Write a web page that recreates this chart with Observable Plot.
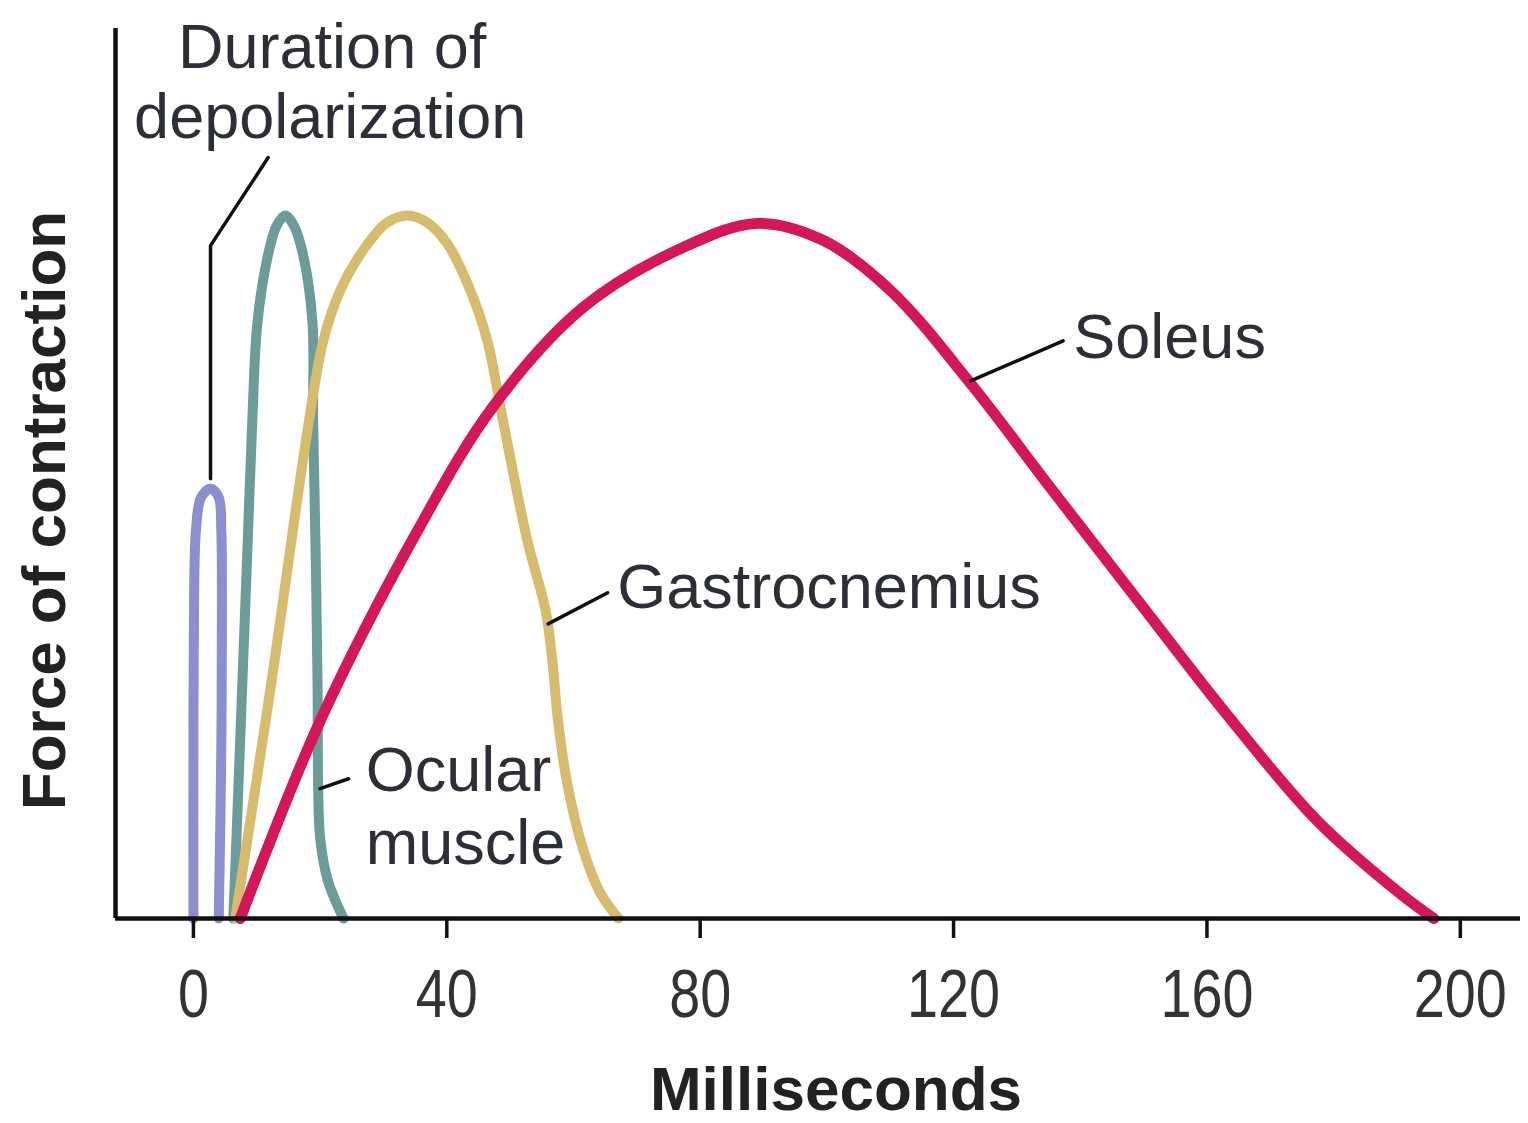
<!DOCTYPE html>
<html><head><meta charset="utf-8">
<script src="https://cdn.jsdelivr.net/npm/d3@7"></script>
<script src="https://cdn.jsdelivr.net/npm/@observablehq/plot@0.6"></script>
<style>body{margin:0;background:#fff}</style>
</head><body><div id="chart"></div>
<script>
// Milliseconds / force of contraction (arbitrary units, 0-100)
const depolMs    = [0, 0, 0.1, 0.4, 1.2, 2.7, 4.0, 4.4, 4.5, 4.4, 4.0];
const depolForce = [0, 18.9, 35.7, 43.6, 47.3, 48.3, 47.3, 43.6, 35.7, 18.9, 0];

const ocularMs    = [6.3, 6.9, 7.7, 8.5, 9.3, 10.1, 11.7, 13.1, 14.5, 15.9, 17.4, 18.8, 18.9, 19.3, 19.6, 19.7, 20.0, 21.2, 23.7];
const ocularForce = [0, 11.0, 26.0, 41.0, 56.0, 66.9, 74.3, 77.8, 79.0, 77.8, 74.3, 66.9, 56.0, 41.0, 26.0, 14.4, 9.1, 4.3, 0];

const gastroMs    = [6.6, 12.2, 18.0, 20.5, 23.2, 27.5, 30.6, 33.8, 36.9, 40.1, 43.7, 46.4, 48.8, 52.7, 55.6, 56.7, 57.5, 59.0, 61.6, 64.2, 67.1];
const gastroForce = [0, 26.0, 54.8, 64.9, 70.6, 75.8, 78.2, 79.0, 78.2, 75.8, 70.6, 64.9, 56.2, 42.5, 34.6, 28.7, 22.6, 15.2, 7.6, 2.9, 0];

const soleusMs    = [7.4, 20.0, 35.4, 47.4, 61.6, 77.3, 89.0, 99.4, 110.0, 122.7, 135.3, 150.0, 162.6, 177.4, 190.5, 195.8];
const soleusForce = [0, 22.2, 43.6, 57.6, 68.7, 75.4, 78.1, 76.2, 70.6, 60.1, 48.4, 34.9, 23.4, 11.0, 2.8, 0];

const xTicks = [0, 40, 80, 120, 160, 200];
const xTitle = "Milliseconds";
const yTitle = "Force of contraction";

// annotation texts and leader lines (data units)
const labelText   = ["Duration of", "depolarization", "Soleus", "Gastrocnemius", "Ocular", "muscle"];
const labelMs     = [21.9, 21.6, 138.9, 66.9, 27.2, 27.2];
const labelF      = [97.8, 90.0, 65.3, 37.2, 16.6, 8.4];
const labelAnchor = ["middle", "middle", "start", "start", "start", "start"];

const leaderId = ["depol", "depol", "depol", "soleus", "soleus", "gastro", "gastro", "ocular", "ocular"];
const leaderMs = [11.8, 2.7, 2.7, 122.7, 137.3, 56.0, 65.4, 20.0, 24.5];
const leaderF  = [85.5, 75.6, 49.4, 60.4, 64.9, 33.1, 36.6, 14.6, 15.7];

const toRows = (xs, ys) => xs.map((x, i) => ({ms: x, force: ys[i]}));
const labels = labelText.map((t, i) => ({t, ms: labelMs[i], f: labelF[i], a: labelAnchor[i]}));
const leaders = leaderId.map((id, i) => ({id, ms: leaderMs[i], f: leaderF[i]}));

const textFont = "Liberation Sans, Arial, sans-serif";
const textColor = "#2c2f38";

const chart = Plot.plot({
  width: 1528,
  height: 1123,
  marginLeft: 115,
  marginRight: 8,
  marginTop: 28,
  marginBottom: 205,
  x: {domain: [-12.3, 209.5], axis: null},
  y: {domain: [0, 100], axis: null},
  marks: [
    Plot.line(toRows(depolMs, depolForce), {x: "ms", y: "force", stroke: "#8b8ecf", strokeWidth: 10, curve: "catmull-rom"}),
    Plot.line(toRows(ocularMs, ocularForce), {x: "ms", y: "force", stroke: "#6b9c9a", strokeWidth: 10, curve: "catmull-rom"}),
    Plot.line(toRows(gastroMs, gastroForce), {x: "ms", y: "force", stroke: "#d6bc6c", strokeWidth: 10, curve: "catmull-rom"}),
    Plot.line(toRows(soleusMs, soleusForce), {x: "ms", y: "force", stroke: "#d3175a", strokeWidth: 11, curve: "catmull-rom"}),
    Plot.line(leaders, {x: "ms", y: "f", z: "id", stroke: "#111", strokeWidth: 3.5}),
    Plot.ruleY([0], {stroke: "#111", strokeWidth: 4.5}),
    Plot.ruleX([-12.3], {y1: 0, y2: 100, stroke: "#111", strokeWidth: 4.5}),
    Plot.axisX({ticks: xTicks, tickSize: 20, tickPadding: 30, strokeWidth: 3.5, stroke: "#111",
      fontSize: 68, fontFamily: textFont, fill: "#333", label: null, tickFormat: d => String(d)}),
    Plot.text(labels.filter(d => d.a === "middle"), {x: "ms", y: "f", text: "t", textAnchor: "middle", fontSize: 63, fontFamily: textFont, fill: textColor}),
    Plot.text(labels.filter(d => d.a === "start"), {x: "ms", y: "f", text: "t", textAnchor: "start", fontSize: 63, fontFamily: textFont, fill: textColor}),
    Plot.text([xTitle], {frameAnchor: "bottom", lineAnchor: "middle", textAnchor: "middle", dx: 18, dy: 172, fontSize: 62, fontWeight: "bold", fontFamily: textFont, fill: "#222"}),
    Plot.text([yTitle], {frameAnchor: "left", lineAnchor: "middle", textAnchor: "middle", dx: -70, dy: 37, rotate: -90, fontSize: 62, fontWeight: "bold", fontFamily: textFont, fill: "#222"})
  ]
});

// condense the tick labels horizontally, like the reference's narrow numerals
d3.select(chart).selectAll('g[aria-label="x-axis tick label"] text').each(function() {
  const t = d3.select(this);
  const tr = t.attr("transform");
  if (tr) {
    t.attr("transform", tr + " scale(0.82,1)");
  } else {
    const x = +t.attr("x") || 0, y = +t.attr("y") || 0;
    t.attr("x", null).attr("y", null).attr("transform", `translate(${x},${y}) scale(0.82,1)`);
  }
});

document.getElementById("chart").append(chart);
</script>
</body></html>
